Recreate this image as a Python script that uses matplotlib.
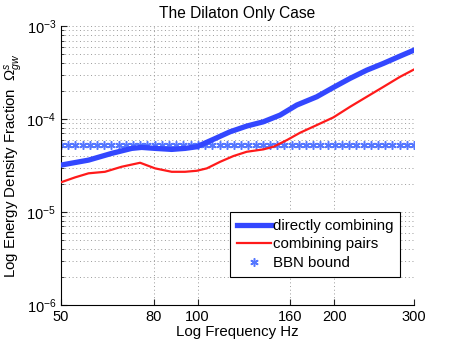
import numpy as np
import matplotlib
matplotlib.use('Agg')
import matplotlib.pyplot as plt
from matplotlib.ticker import FixedLocator, NullLocator, NullFormatter, LogLocator

plt.rcParams['font.family'] = ['Liberation Sans', 'DejaVu Sans']
plt.rcParams['mathtext.fontset'] = 'custom'
plt.rcParams['mathtext.rm'] = 'Liberation Sans'
plt.rcParams['mathtext.it'] = 'Liberation Sans:italic'

# directly combining (thick blue)
freq_direct = [50, 57.5, 64.7, 71.6, 75.3, 80.6, 87.7, 93.8, 99.6, 108.3, 117.9,
               128.3, 139.6, 152, 165.4, 183.1, 199.2, 216.8, 236, 256.7, 279.4, 300]
omega_direct = [3.20e-5, 3.62e-5, 4.28e-5, 4.84e-5, 4.96e-5, 4.84e-5, 4.72e-5, 4.84e-5,
                5.04e-5, 6.05e-5, 7.30e-5, 8.41e-5, 9.35e-5, 1.104e-4, 1.415e-4, 1.738e-4,
                2.19e-4, 2.74e-4, 3.36e-4, 3.97e-4, 4.76e-4, 5.52e-4]

# combining pairs (thin red)
freq_pairs = [50, 53.7, 57.5, 62.5, 68.0, 74.7, 80.6, 87.7, 93.8, 99.6, 104.8, 112.1,
              119.9, 128.3, 139.6, 146.9, 157.3, 168.2, 183.1, 199.2, 216.8, 236,
              256.7, 279.4, 300]
omega_pairs = [2.09e-5, 2.36e-5, 2.61e-5, 2.71e-5, 3.07e-5, 3.39e-5, 2.95e-5, 2.71e-5,
               2.71e-5, 2.78e-5, 2.95e-5, 3.47e-5, 4.00e-5, 4.45e-5, 4.72e-5, 5.04e-5,
               5.94e-5, 7.13e-5, 8.62e-5, 1.043e-4, 1.356e-4, 1.738e-4, 2.22e-4,
               2.85e-4, 3.42e-4]

# BBN bound (constant)
bbn_value = 5.25e-5
freq_bbn = np.geomspace(50, 300, 50)

xticks = [50, 80, 100, 160, 200, 300]

fig = plt.figure(figsize=(4.57, 3.44), dpi=100)
ax = fig.add_axes([0.1335, 0.1134, 0.7725, 0.8106])

ax.plot(freq_direct, omega_direct, '-', color='#3347ff', lw=3.8, solid_joinstyle='round',
        label='directly combining', zorder=3)
ax.plot(freq_pairs, omega_pairs, '-', color='#ff1a1a', lw=1.6, solid_joinstyle='round',
        label='combining pairs', zorder=3)
ax.plot(freq_bbn, [bbn_value] * len(freq_bbn), linestyle='none', marker=(6, 2, 0),
        markersize=6, markeredgewidth=1.1, color='#5577ff', label='BBN bound', zorder=2)

ax.set_xscale('log')
ax.set_yscale('log')
ax.set_xlim(50, 300)
ax.set_ylim(1e-6, 1e-3)

ax.xaxis.set_major_locator(FixedLocator(xticks))
ax.xaxis.set_major_formatter(plt.FuncFormatter(lambda v, p: '%d' % v))
ax.xaxis.set_minor_locator(NullLocator())
ax.xaxis.set_minor_formatter(NullFormatter())
ax.yaxis.set_major_locator(LogLocator(base=10, numticks=10))
ax.yaxis.set_minor_locator(LogLocator(base=10, subs=np.arange(2, 10), numticks=10))
ax.yaxis.set_minor_formatter(NullFormatter())

dots = (0, (1, 2.8))
ax.grid(True, which='major', linestyle=dots, color='#999999', lw=0.7)
ax.grid(True, which='minor', axis='y', linestyle=dots, color='#999999', lw=0.7)

ax.spines['top'].set_visible(False)
ax.spines['right'].set_visible(False)
ax.tick_params(which='both', direction='in', labelsize=10.5, color='#222222')
ax.tick_params(which='major', length=4)
ax.tick_params(which='minor', length=2)

narrow = ['Liberation Sans Narrow', 'Liberation Sans']
ax.set_title('The Dilaton Only Case', fontsize=11.2, pad=6)
ax.set_xlabel('Log Frequency Hz', fontsize=10.8, family=narrow, labelpad=1)
ax.set_ylabel(r'Log Energy Density Fraction  $\mathit{\Omega}^{s}_{gw}$', fontsize=10.8,
              family=narrow, labelpad=2)

leg = ax.legend(loc='upper left', bbox_to_anchor=(0.479, 0.333), fontsize=10.8,
                fancybox=False, framealpha=1, edgecolor='black', borderpad=0.45,
                handlelength=2.3, handletextpad=0.1, labelspacing=0.3, borderaxespad=0)
leg.get_frame().set_linewidth(0.8)

fig.savefig('out.png', dpi=100)
